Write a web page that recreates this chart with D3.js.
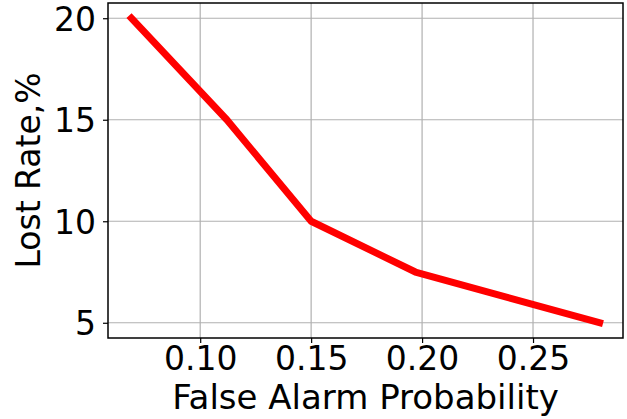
<!DOCTYPE html>
<html>
<head>
<meta charset="utf-8">
<script src="https://cdn.jsdelivr.net/npm/d3@7"></script>
<style>
  body { margin: 0; background: #fff; }
  svg { display: block; font-family: "DejaVu Sans", sans-serif; }
</style>
</head>
<body>
<div id="chart"></div>
<script>
const FRAME_WIDTH = 627;
const FRAME_HEIGHT = 419;
const MARGINS = { left: 108, right: 4, top: 3, bottom: 81 };
const VIS_WIDTH = FRAME_WIDTH - MARGINS.left - MARGINS.right;
const VIS_HEIGHT = FRAME_HEIGHT - MARGINS.top - MARGINS.bottom;

// data
const FALSE_ALARM = [0.069, 0.112, 0.15, 0.197, 0.28];
const LOST_RATE = [20, 15, 10, 7.5, 5];
const X_TICKS = [0.10, 0.15, 0.20, 0.25];
const Y_TICKS = [5, 10, 15, 20];

const data = FALSE_ALARM.map((x, i) => ({ x: x, y: LOST_RATE[i] }));

const FRAME = d3.select("#chart")
  .append("svg")
  .attr("width", FRAME_WIDTH)
  .attr("height", FRAME_HEIGHT);

// matplotlib style 5% margins
const xPad = (d3.max(FALSE_ALARM) - d3.min(FALSE_ALARM)) * 0.05;
const yPad = (d3.max(LOST_RATE) - d3.min(LOST_RATE)) * 0.05;

const X_SCALE = d3.scaleLinear()
  .domain([d3.min(FALSE_ALARM) - xPad, d3.max(FALSE_ALARM) + xPad])
  .range([0, VIS_WIDTH]);

const Y_SCALE = d3.scaleLinear()
  .domain([d3.min(LOST_RATE) - yPad, d3.max(LOST_RATE) + yPad])
  .range([VIS_HEIGHT, 0]);

const g = FRAME.append("g")
  .attr("transform", `translate(${MARGINS.left},${MARGINS.top})`);

// grid
g.append("g")
  .selectAll("line.vgrid")
  .data(X_TICKS)
  .enter()
  .append("line")
  .attr("x1", (d) => X_SCALE(d))
  .attr("x2", (d) => X_SCALE(d))
  .attr("y1", 0)
  .attr("y2", VIS_HEIGHT)
  .attr("stroke", "#b0b0b0")
  .attr("stroke-width", 1.2);

g.append("g")
  .selectAll("line.hgrid")
  .data(Y_TICKS)
  .enter()
  .append("line")
  .attr("x1", 0)
  .attr("x2", VIS_WIDTH)
  .attr("y1", (d) => Y_SCALE(d))
  .attr("y2", (d) => Y_SCALE(d))
  .attr("stroke", "#b0b0b0")
  .attr("stroke-width", 1.2);

// the line
const line = d3.line()
  .x((d) => X_SCALE(d.x))
  .y((d) => Y_SCALE(d.y));

g.append("path")
  .datum(data)
  .attr("d", line)
  .attr("fill", "none")
  .attr("stroke", "#ff0000")
  .attr("stroke-width", 7)
  .attr("stroke-linejoin", "round")
  .attr("stroke-linecap", "square");

// frame
g.append("rect")
  .attr("x", 0)
  .attr("y", 0)
  .attr("width", VIS_WIDTH)
  .attr("height", VIS_HEIGHT)
  .attr("fill", "none")
  .attr("stroke", "#000")
  .attr("stroke-width", 1.5);

// axes
const xAxis = g.append("g")
  .attr("transform", `translate(0,${VIS_HEIGHT})`)
  .call(d3.axisBottom(X_SCALE).tickValues(X_TICKS).tickFormat(d3.format(".2f")).tickSizeOuter(0).tickSize(5).tickPadding(4));

const yAxis = g.append("g")
  .call(d3.axisLeft(Y_SCALE).tickValues(Y_TICKS).tickFormat(d3.format("d")).tickSizeOuter(0).tickSize(5).tickPadding(7));

[xAxis, yAxis].forEach((ax) => {
  ax.select(".domain").remove();
  ax.selectAll(".tick line").attr("stroke", "#000").attr("stroke-width", 1.2);
  ax.selectAll(".tick text")
    .attr("fill", "#000")
    .style("font-family", "DejaVu Sans")
    .style("font-size", "33px");
});
xAxis.selectAll(".tick text").attr("dy", "0.71em");
yAxis.selectAll(".tick text").attr("dy", "0.36em");

// axis labels
FRAME.append("text")
  .attr("x", MARGINS.left + VIS_WIDTH / 2)
  .attr("y", 409)
  .attr("text-anchor", "middle")
  .attr("fill", "#000")
  .style("font-size", "34px")
  .text("False Alarm Probability");

FRAME.append("text")
  .attr("transform", `translate(40,${MARGINS.top + VIS_HEIGHT / 2}) rotate(-90)`)
  .attr("text-anchor", "middle")
  .attr("fill", "#000")
  .style("font-size", "33px")
  .text("Lost Rate,%");
</script>
</body>
</html>
